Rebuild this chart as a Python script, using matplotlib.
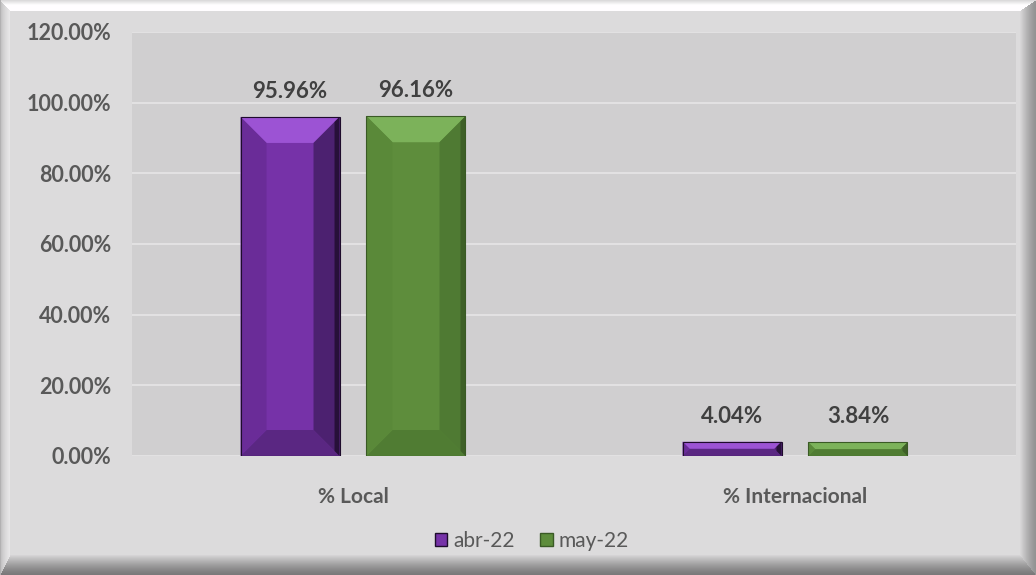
import numpy as np
import matplotlib.pyplot as plt
from matplotlib.patches import Polygon, Rectangle
from matplotlib.ticker import FuncFormatter

categories = ["% Local", "% Internacional"]
series = ["abr-22", "may-22"]
abr_22 = [95.96, 4.04]
may_22 = [96.16, 3.84]

W, H = 1036, 575
fig = plt.figure(figsize=(W / 100, H / 100), dpi=100)
fig.patch.set_facecolor("#dcdbdc")

# beveled frame behind everything
bg = fig.add_axes([0, 0, 1, 1], zorder=-10)
yy, xx = np.mgrid[0:H, 0:W].astype(float)
img = np.full((H, W), 0.865)
bl, bt, br, bb = 10.0, 11.0, 16.0, 20.0
dl, dt, dr, db = xx / bl, yy / bt, (W - 1 - xx) / br, (H - 1 - yy) / bb
dmin = np.minimum.reduce([dl, dt, dr, db])
m = dmin < 1
left = m & (dl == dmin)
top = m & (dt == dmin) & ~left
right = m & (dr == dmin) & ~left & ~top
bottom = m & ~left & ~top & ~right
img[left] = 0.70 + 0.22 * np.sqrt(dl[left])
img[top] = 0.86 + 0.14 * np.minimum(dt[top] * 2.5, 1)
img[right] = 0.58 + 0.29 * dr[right] ** 1.3
img[bottom] = 0.48 + 0.38 * db[bottom] ** 1.3
bg.imshow(np.dstack([img, img * 0.995, img]), extent=[0, W, H, 0], aspect="auto")
bg.axis("off")

ax = fig.add_axes([132 / W, (H - 456) / H, 884 / W, 424 / H])
ax.set_facecolor("#d0cfd0")
ax.set_xlim(-0.5, 1.5)
ax.set_ylim(0, 120)

x = np.arange(len(categories))
bw = 0.224
off = 0.1425

styles = [
    dict(face="#7632a8", top="#9c53d4", bottom="#5a2782", left="#6a2c98",
         right="#4c2170", edge="#1e0c2c"),
    dict(face="#5e8d3c", top="#7cb25a", bottom="#507c33", left="#5a8939",
         right="#4f7a33", edge="#3a5a25"),
]

px_x = 884 / 2.0   # pixels per category unit
px_y = 424 / 120.0  # pixels per percent
bev = 26
edge_px = 5


def bevel_bar(xc, h, st):
    x0, x1 = xc - bw / 2, xc + bw / 2
    ax.bar(xc, h, bw, color=st["face"], edgecolor="none", zorder=2)
    hpx = h * px_y
    b = min(bev, hpx / 2)
    bx, by = b / px_x, b / px_y
    ix0, ix1, iy0, iy1 = x0 + bx, x1 - bx, by, h - by
    ax.add_patch(Polygon([(x0, h), (x1, h), (ix1, iy1), (ix0, iy1)], color=st["top"], lw=0, zorder=3))
    ax.add_patch(Polygon([(x0, 0), (x1, 0), (ix1, iy0), (ix0, iy0)], color=st["bottom"], lw=0, zorder=3))
    ax.add_patch(Polygon([(x0, 0), (x0, h), (ix0, iy1), (ix0, iy0)], color=st["left"], lw=0, zorder=3))
    ax.add_patch(Polygon([(x1, 0), (x1, h), (ix1, iy1), (ix1, iy0)], color=st["right"], lw=0, zorder=3))
    # dark shading along the right edge
    e = min(edge_px, b) / px_x
    ey = min(edge_px, b) / px_y
    ax.add_patch(Polygon([(x1, 0), (x1, h), (x1 - e, h - ey), (x1 - e, ey)], color=st["edge"],
                         lw=0, alpha=0.8, zorder=3))
    ax.add_patch(Rectangle((x0, 0), bw, h, fill=False, ec=st["edge"], lw=0.8, zorder=4))
    ax.text(xc, h + 4.3, f"{h:.2f}%", ha="center", va="bottom", fontsize=16,
            fontweight="bold", color="#404040", family="Lato", zorder=5)


for i, vals in enumerate([abr_22, may_22]):
    for j, v in enumerate(vals):
        bevel_bar(x[j] + (i * 2 - 1) * off, v, styles[i])

ax.set_yticks(np.arange(0, 121, 20))
ax.yaxis.set_major_formatter(FuncFormatter(lambda v, p: f"{v:.2f}%"))
ax.grid(axis="y", color="#e2e1e2", lw=1.5, zorder=0)
ax.set_axisbelow(True)
ax.set_xticks(x)
ax.set_xticklabels(categories, fontweight="bold")
ax.tick_params(axis="y", length=0, pad=15, labelsize=15.5, labelcolor="#595959")
ax.tick_params(axis="x", length=0, pad=22, labelsize=15, labelcolor="#595959")
for lbl in ax.get_yticklabels() + ax.get_xticklabels():
    lbl.set_family("Lato")
for lbl in ax.get_yticklabels():
    lbl.set_fontweight("bold")
for s in ax.spines.values():
    s.set_visible(False)

handles = [Rectangle((0, 0), 1, 1, fc=st["face"], ec=st["edge"]) for st in styles]
leg = fig.legend(handles, series, loc="center", bbox_to_anchor=(532 / W, 1 - 541 / H),
                 ncol=2, frameon=False, handlelength=0.6, handleheight=0.6,
                 handletextpad=0.3, columnspacing=1.2,
                 prop=dict(family="Lato", size=15))
for t in leg.get_texts():
    t.set_color("#595959")

fig.savefig("out.png", dpi=100)
